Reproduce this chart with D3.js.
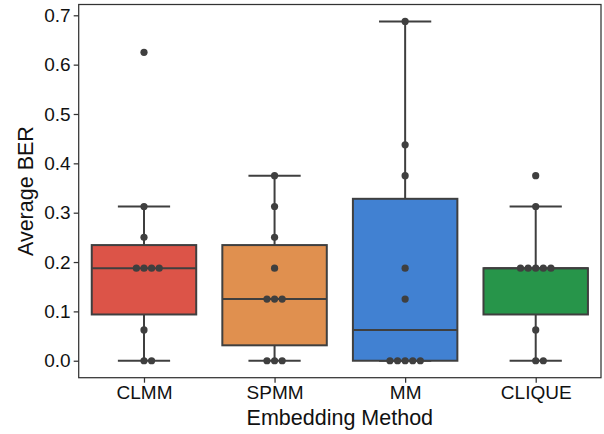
<!DOCTYPE html>
<html>
<head>
<meta charset="utf-8">
<script src="https://cdn.jsdelivr.net/npm/d3@7/dist/d3.min.js"></script>
<style>
  html, body { margin: 0; padding: 0; background: #fff; }
  svg { display: block; font-family: "Liberation Sans", Arial, sans-serif; }
</style>
</head>
<body>
<svg id="chart" width="604" height="434"></svg>
<script>
// Embedding methods and their per-run average BER values
const categories = ["CLMM", "SPMM", "MM", "CLIQUE"];
const clmmValues   = [0.625, 0.3125, 0.25, 0.1875, 0.1875, 0.1875, 0.1875, 0.0625, 0, 0];
const spmmValues   = [0.375, 0.3125, 0.25, 0.1875, 0.125, 0.125, 0.125, 0, 0, 0];
const mmValues     = [0.6875, 0.4375, 0.375, 0.1875, 0.125, 0, 0, 0, 0, 0];
const cliqueValues = [0.375, 0.3125, 0.1875, 0.1875, 0.1875, 0.1875, 0.1875, 0.0625, 0, 0];
const yTicks = [0, 0.1, 0.2, 0.3, 0.4, 0.5, 0.6, 0.7];
const colors = ["#dc5448", "#e0904f", "#4181d2", "#27954a"];

const seriesValues = [clmmValues, spmmValues, mmValues, cliqueValues];

const svg = d3.select("#chart");
const plotL = 78.7, plotR = 601, plotT = 4.5, plotB = 377.7;
const ink = "#3f3f3f";
const tickFont = 19, titleFont = 21.5;

// Data range padded by 5% on both sides
const all = seriesValues.flat();
const lo = d3.min(all), hi = d3.max(all), pad = (hi - lo) * 0.05;
const y = d3.scaleLinear().domain([lo - pad, hi + pad]).range([plotB, plotT]);
const x = d3.scaleLinear().domain([-0.5, categories.length - 0.5]).range([plotL, plotR]);
const band = x(1) - x(0);
const boxW = band * 0.8;

const g = svg.append("g");

seriesValues.forEach((vals, i) => {
  const s = vals.slice().sort(d3.ascending);
  const q1 = d3.quantileSorted(s, 0.25), med = d3.quantileSorted(s, 0.5), q3 = d3.quantileSorted(s, 0.75);
  const iqr = q3 - q1;
  const wLo = d3.min(s.filter(v => v >= q1 - 1.5 * iqr));
  const wHi = d3.max(s.filter(v => v <= q3 + 1.5 * iqr));
  const cx = x(i);
  const bg = g.append("g");
  // whiskers
  bg.append("line").attr("x1", cx).attr("x2", cx).attr("y1", y(q3)).attr("y2", y(wHi))
    .attr("stroke", ink).attr("stroke-width", 2);
  bg.append("line").attr("x1", cx).attr("x2", cx).attr("y1", y(q1)).attr("y2", y(wLo))
    .attr("stroke", ink).attr("stroke-width", 2);
  [wLo, wHi].forEach(w => {
    bg.append("line").attr("x1", cx - boxW / 4).attr("x2", cx + boxW / 4)
      .attr("y1", y(w)).attr("y2", y(w)).attr("stroke", ink).attr("stroke-width", 2);
  });
  // box
  bg.append("rect").attr("x", cx - boxW / 2).attr("width", boxW)
    .attr("y", y(q3)).attr("height", y(q1) - y(q3))
    .attr("fill", colors[i]).attr("stroke", ink).attr("stroke-width", 2);
  // median
  bg.append("line").attr("x1", cx - boxW / 2).attr("x2", cx + boxW / 2)
    .attr("y1", y(med)).attr("y2", y(med)).attr("stroke", ink).attr("stroke-width", 2);

  // swarm of individual values
  const spacing = 7.6, r = 3.6;
  const placed = [];
  s.forEach(v => {
    const py = y(v);
    const nb = placed.filter(p => Math.abs(p.y - py) < spacing);
    const cands = [0];
    nb.forEach(n => {
      const dy = n.y - py;
      const dx = Math.sqrt(spacing * spacing - dy * dy);
      cands.push(n.x + dx, n.x - dx);
    });
    const order = cands.map((c, k) => ({ c, k }))
      .sort((a, b) => (Math.abs(a.c) - Math.abs(b.c)) || (a.k - b.k));
    let px = 0;
    for (const o of order) {
      if (nb.every(n => Math.hypot(n.x - o.c, n.y - py) >= spacing - 1e-6)) { px = o.c; break; }
    }
    placed.push({ x: px, y: py });
  });
  bg.selectAll("circle.pt").data(placed).join("circle")
    .attr("class", "pt")
    .attr("cx", d => cx + d.x).attr("cy", d => d.y).attr("r", r)
    .attr("fill", ink);
});

// Frame
svg.append("rect").attr("x", plotL).attr("y", plotT)
  .attr("width", plotR - plotL).attr("height", plotB - plotT)
  .attr("fill", "none").attr("stroke", "#333").attr("stroke-width", 1.25);

// Y axis
const yAxis = d3.axisLeft(y).tickValues(yTicks).tickFormat(d3.format(".1f"))
  .tickSize(5).tickPadding(3);
const ya = svg.append("g").attr("transform", `translate(${plotL},0)`).call(yAxis);
ya.select(".domain").remove();
ya.selectAll(".tick line").attr("stroke", "#333").attr("stroke-width", 1.25);
ya.selectAll(".tick text").attr("font-size", tickFont).attr("fill", "#111")
  .attr("font-family", "Liberation Sans, Arial, sans-serif");

// X axis
const xAxis = d3.axisBottom(x).tickValues(d3.range(categories.length))
  .tickFormat(i => categories[i]).tickSize(5).tickPadding(3);
const xa = svg.append("g").attr("transform", `translate(0,${plotB})`).call(xAxis);
xa.select(".domain").remove();
xa.selectAll(".tick line").attr("stroke", "#333").attr("stroke-width", 1.25);
xa.selectAll(".tick text").attr("font-size", tickFont).attr("fill", "#111")
  .attr("font-family", "Liberation Sans, Arial, sans-serif");

// Axis titles
svg.append("text").attr("x", (plotL + plotR) / 2).attr("y", 425)
  .attr("text-anchor", "middle").attr("font-size", titleFont).attr("fill", "#111")
  .text("Embedding Method");
svg.append("text")
  .attr("transform", `translate(33,${(plotT + plotB) / 2}) rotate(-90)`)
  .attr("text-anchor", "middle").attr("font-size", titleFont).attr("fill", "#111")
  .text("Average BER");
</script>
</body>
</html>
